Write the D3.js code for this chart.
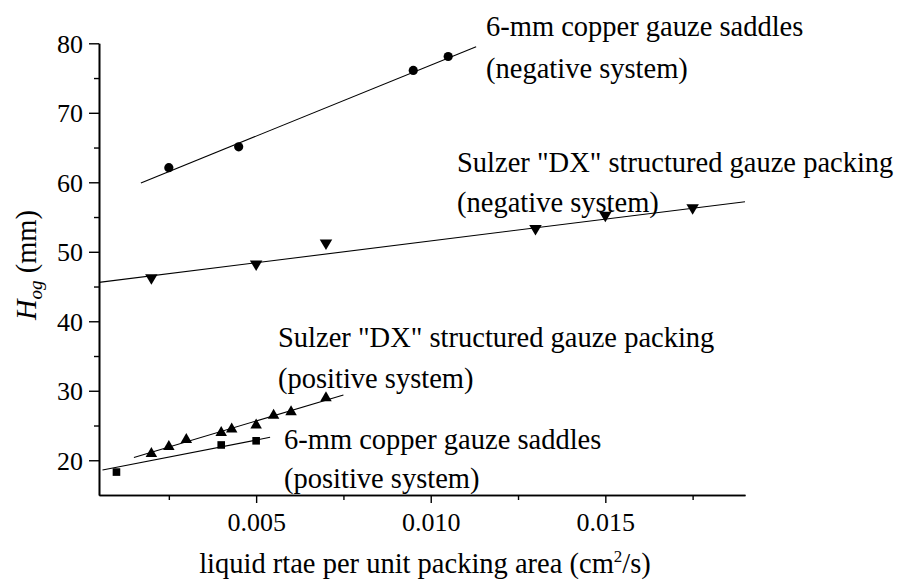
<!DOCTYPE html>
<html><head><meta charset="utf-8">
<script src="https://cdn.jsdelivr.net/npm/d3@7"></script>
<style>
html,body{margin:0;padding:0;background:#fff;}
svg text{font-family:"Liberation Serif","Times New Roman",serif !important;fill:#000;}
</style></head>
<body><svg id="c" width="901" height="583"></svg>
<script>
// ---- data ----
const xMajorTicks = [0.005, 0.010, 0.015];
const xMinorTicks = [0.0025, 0.0075, 0.0125, 0.0175];
const yMajorTicks = [20, 30, 40, 50, 60, 70, 80];
const yMinorTicks = [25, 35, 45, 55, 65, 75];

const copperNegX = [0.0025, 0.0045, 0.0095, 0.0105];
const copperNegY = [62.1, 65.1, 76.1, 78.1];
const copperNegFitX = [0.0017, 0.0113];
const copperNegFitY = [59.9, 79.5];

const sulzerNegX = [0.002, 0.005, 0.007, 0.013, 0.015, 0.0175];
const sulzerNegY = [46.0, 48.0, 51.0, 53.1, 55.0, 56.1];
const sulzerNegFitX = [0.0005, 0.019];
const sulzerNegFitY = [45.6, 57.2];

const sulzerPosX = [0.002, 0.0025, 0.003, 0.004, 0.0043, 0.005, 0.0055, 0.006, 0.007];
const sulzerPosY = [21.2, 22.2, 23.2, 24.2, 24.7, 25.3, 26.7, 27.2, 29.2];
const sulzerPosFitX = [0.0015, 0.0075];
const sulzerPosFitY = [20.4, 29.4];

const copperPosX = [0.001, 0.004, 0.005];
const copperPosY = [18.3, 22.2, 22.8];
const copperPosFitX = [0.0006, 0.0054];
const copperPosFitY = [18.6, 23.3];

const annotations = [
  ["6-mm copper gauze saddles", "(negative system)"],
  ["Sulzer \"DX\" structured gauze packing", "(negative system)"],
  ["Sulzer \"DX\" structured gauze packing", "(positive system)"],
  ["6-mm copper gauze saddles", "(positive system)"]
];

// ---- layout ----
const FONT = '"Liberation Serif","Times New Roman",serif';
const svg = d3.select("#c");
const L = 99, R = 745, T = 43.3, B = 495;
const x = d3.scaleLinear().domain([0.0005, 0.019]).range([L, R]);
const y = d3.scaleLinear().domain([15, 80]).range([B, T]);

// axes
const gx = svg.append("g").attr("transform", `translate(0,${B})`)
  .call(d3.axisBottom(x).tickValues(xMajorTicks).tickFormat(d3.format(".3f")).tickSize(8).tickSizeOuter(0).tickPadding(10));
const gx2 = svg.append("g").attr("transform", `translate(0,${B})`)
  .call(d3.axisBottom(x).tickValues(xMinorTicks).tickFormat("").tickSize(5).tickSizeOuter(0));
const gy = svg.append("g").attr("transform", `translate(${L},0)`)
  .call(d3.axisLeft(y).tickValues(yMajorTicks).tickSize(10).tickSizeOuter(0).tickPadding(6));
const gy2 = svg.append("g").attr("transform", `translate(${L},0)`)
  .call(d3.axisLeft(y).tickValues(yMinorTicks).tickFormat("").tickSize(5).tickSizeOuter(0));
[gx, gx2, gy, gy2].forEach(g => g.attr("font-family", FONT).attr("font-size", 26));
svg.selectAll(".domain").attr("stroke", "#000").attr("stroke-width", 1.6);
svg.selectAll(".tick line").attr("stroke", "#000").attr("stroke-width", 1.4);
svg.selectAll(".tick text").attr("font-family", FONT).attr("font-size", 26).attr("fill", "#000");
gy.selectAll(".tick text").attr("dy", "0.34em");

// fit lines
const line = d3.line().x(d => x(d[0])).y(d => y(d[1]));
[[copperNegFitX, copperNegFitY], [sulzerNegFitX, sulzerNegFitY], [sulzerPosFitX, sulzerPosFitY], [copperPosFitX, copperPosFitY]]
  .forEach(([xs, ys]) => {
    svg.append("path").datum(xs.map((v, i) => [v, ys[i]]))
      .attr("d", line).attr("fill", "none").attr("stroke", "#000").attr("stroke-width", 1.1);
  });

// markers
const zip = (xs, ys) => xs.map((v, i) => [v, ys[i]]);
svg.selectAll(".c").data(zip(copperNegX, copperNegY)).enter().append("circle")
  .attr("cx", d => x(d[0])).attr("cy", d => y(d[1])).attr("r", 4.6).attr("fill", "#000");
svg.selectAll(".s").data(zip(copperPosX, copperPosY)).enter().append("rect")
  .attr("x", d => x(d[0]) - 3.8).attr("y", d => y(d[1]) - 3.8).attr("width", 7.6).attr("height", 7.6).attr("fill", "#000");
const triUp = (cx, cy, w, h) => `M${cx},${cy - h / 2}L${cx + w / 2},${cy + h / 2}L${cx - w / 2},${cy + h / 2}Z`;
const triDown = (cx, cy, w, h) => `M${cx - w / 2},${cy - h / 2}L${cx + w / 2},${cy - h / 2}L${cx},${cy + h / 2}Z`;
svg.selectAll(".tu").data(zip(sulzerPosX, sulzerPosY)).enter().append("path")
  .attr("d", d => triUp(x(d[0]), y(d[1]), 11.5, 10)).attr("fill", "#000");
svg.selectAll(".td").data(zip(sulzerNegX, sulzerNegY)).enter().append("path")
  .attr("d", d => triDown(x(d[0]), y(d[1]), 12.5, 10.5)).attr("fill", "#000");

// annotations
const annoPos = [[486, 36, 78], [457, 172, 212], [278, 347, 388], [284, 449, 488]];
annotations.forEach((a, i) => {
  const [ax, y1, y2] = annoPos[i];
  svg.append("text").attr("x", ax).attr("y", y1).attr("font-size", 28.5).text(a[0]);
  svg.append("text").attr("x", ax).attr("y", y2).attr("font-size", 28.5).text(a[1]);
});

// axis titles
const xt = svg.append("text").attr("x", 425).attr("y", 573).attr("text-anchor", "middle").attr("font-size", 28.5);
xt.append("tspan").text("liquid rtae per unit packing area (cm");
xt.append("tspan").attr("dy", -11).attr("font-size", 17).text("2");
xt.append("tspan").attr("dy", 11).text("/s)");

const yt = svg.append("text").attr("transform", "translate(36,265) rotate(-90)").attr("text-anchor", "middle").attr("font-size", 28.5);
yt.append("tspan").attr("font-style", "italic").text("H");
yt.append("tspan").attr("font-style", "italic").attr("font-size", 19).attr("dy", 6).text("og");
yt.append("tspan").attr("dy", -6).text(" (mm)");
</script></body></html>
